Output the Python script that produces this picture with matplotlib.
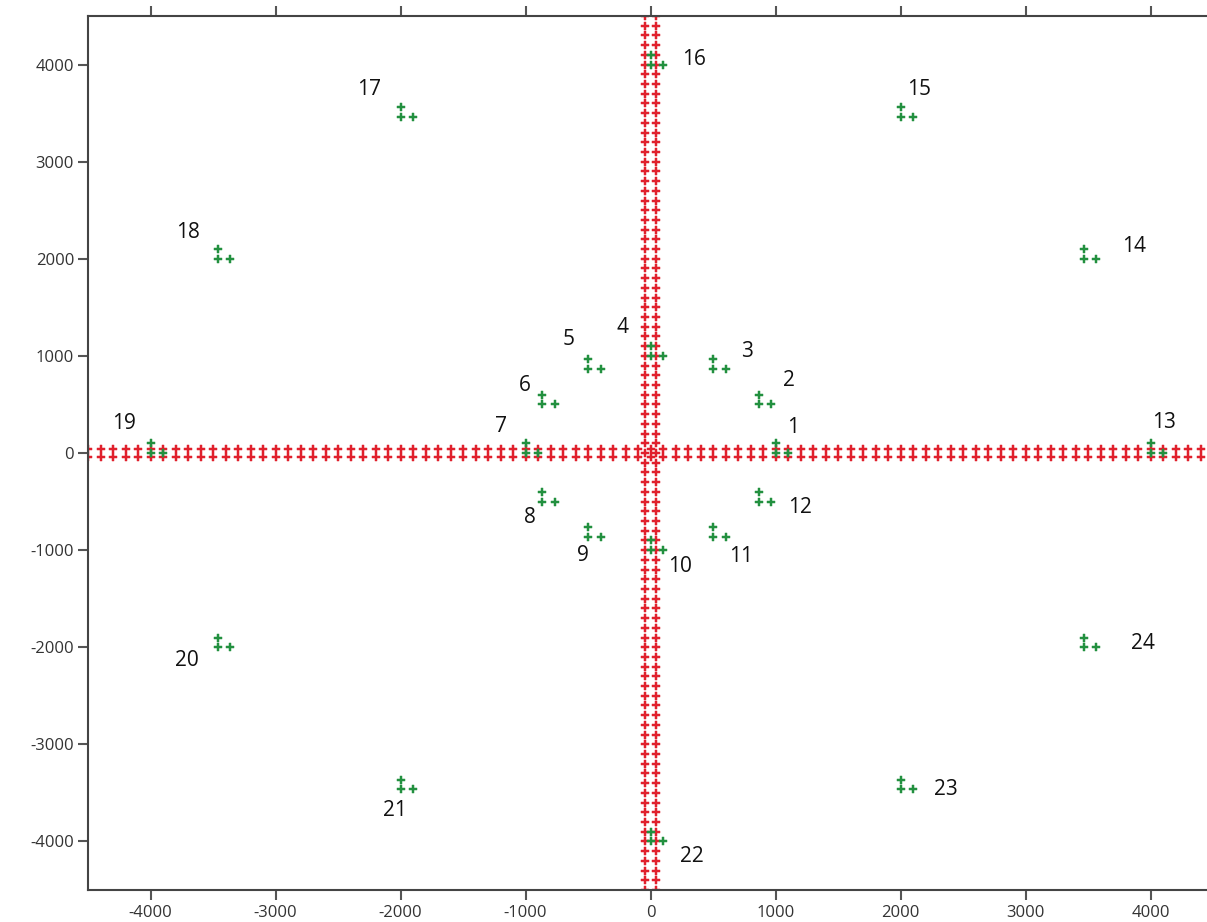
import numpy as np
import matplotlib
matplotlib.use("Agg")
import matplotlib.pyplot as plt

# Station positions: inner ring r=1000 (1-12), outer ring r=4000 (13-24)
station_ids = list(range(1, 25))
station_x = [1000, 866, 500, 0, -500, -866, -1000, -866, -500, 0, 500, 866,
             4000, 3464, 2000, 0, -2000, -3464, -4000, -3464, -2000, 0, 2000, 3464]
station_y = [0, 500, 866, 1000, 866, 500, 0, -500, -866, -1000, -866, -500,
             0, 2000, 3464, 4000, 3464, 2000, 0, -2000, -3464, -4000, -3464, -2000]

# Label anchor positions for each station number
label_x = [1144, 1104, 776, -224, -656, -1008, -1192, -968, -544, 240, 728, 1200,
           4104, 3872, 2152, 344, -2248, -3704, -4216, -3712, -2048, 328, 2360, 3936]
label_y = [258, 742, 1041, 1289, 1165, 691, 268, -660, -1052, -1165, -1062, -557,
           309, 2124, 3742, 4052, 3742, 2268, 299, -2134, -3680, -4155, -3464, -1959]

# Each station is drawn as a small three-receiver cluster
cluster_dx = [0, 100, 0]
cluster_dy = [0, 0, 100]

# Dense receiver lines along the two axes (two parallel rows each)
line_extent = 4500
line_step = 100
row_offsets = [-45, 45]

x_ticks = [-4000, -3000, -2000, -1000, 0, 1000, 2000, 3000, 4000]
y_ticks = [-4000, -3000, -2000, -1000, 0, 1000, 2000, 3000, 4000]

red = "#e0202c"
green = "#22903f"

fig = plt.figure(figsize=(12.07, 9.22), dpi=100)
ax = fig.add_axes([88 / 1207, 32 / 922, 1125 / 1207, 874 / 922])

mk = dict(linestyle="none", marker="P", markersize=6, markeredgewidth=0.35)

line_pos = np.arange(-line_extent, line_extent + 1, line_step)
for off in row_offsets:
    ax.plot(line_pos, np.full_like(line_pos, off), color=red, markeredgecolor=red,
            zorder=2, **mk)
    ax.plot(np.full_like(line_pos, off), line_pos, color=red, markeredgecolor=red,
            zorder=2, **mk)

for dx, dy in zip(cluster_dx, cluster_dy):
    ax.plot(np.array(station_x) + dx, np.array(station_y) + dy, color=green,
            markeredgecolor=green, zorder=3, **mk)

for sid, lx, ly in zip(station_ids, label_x, label_y):
    ax.text(lx, ly, str(sid), ha="center", va="center", fontsize=15,
            color="#111111", family="Open Sans", zorder=4)

ax.set_xlim(-4500, 4500)
ax.set_ylim(-4500, 4500)
ax.set_xticks(x_ticks)
ax.set_yticks(y_ticks)
ax.set_xticklabels([str(v) for v in x_ticks], family="Open Sans", fontsize=12, color="#333333")
ax.set_yticklabels([str(v) for v in y_ticks], family="Open Sans", fontsize=12, color="#333333")
ax.tick_params(axis="x", which="both", top=True, bottom=True, direction="out",
               length=7, width=1.5, color="#555555", pad=4)
ax.tick_params(axis="y", which="both", left=True, right=False, direction="out",
               length=7, width=1.5, color="#555555", pad=3)
for side in ["left", "bottom", "top", "right"]:
    ax.spines[side].set_color("#444444")
    ax.spines[side].set_linewidth(1.5)

fig.savefig("out.png", dpi=100)
